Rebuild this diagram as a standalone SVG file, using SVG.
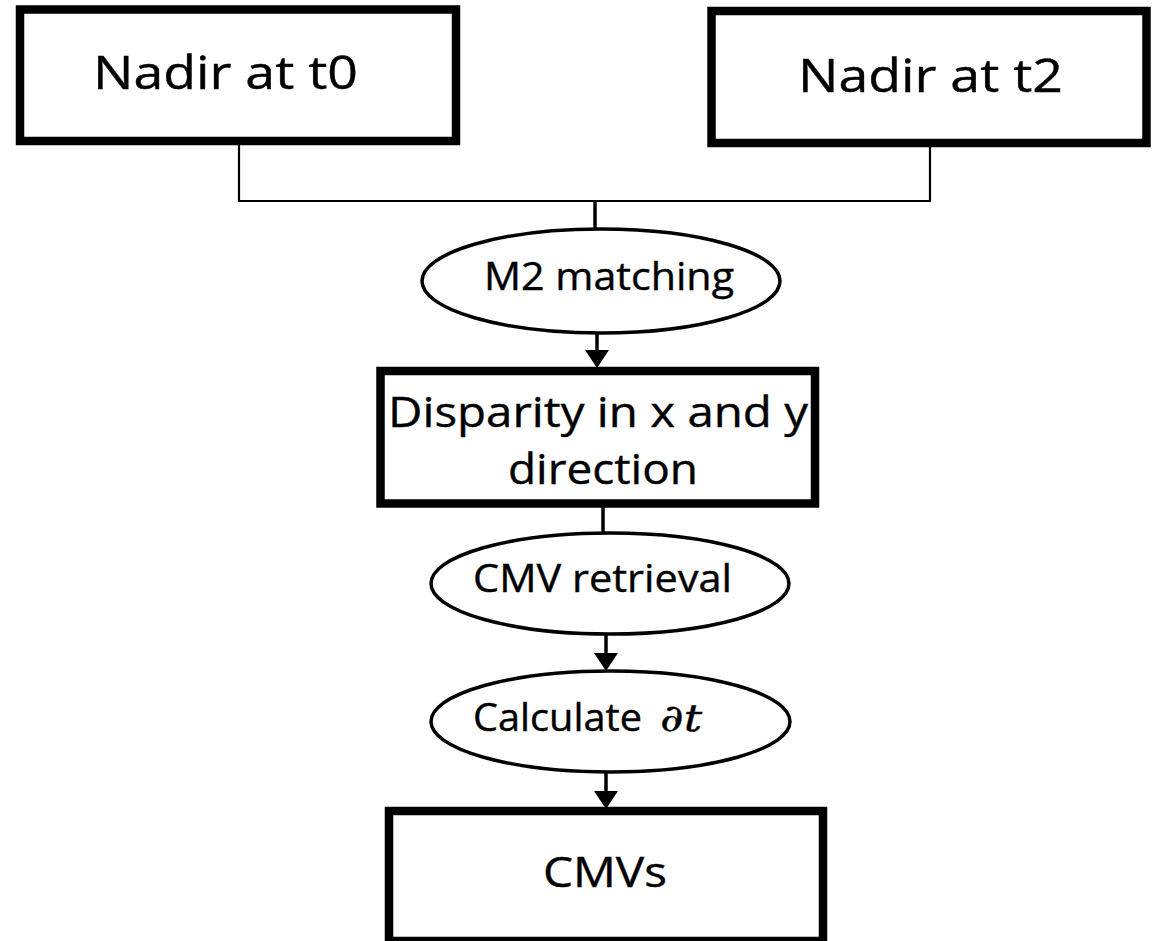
<svg xmlns="http://www.w3.org/2000/svg" width="1153" height="941" viewBox="0 0 1153 941">
<style>
.box{fill:#fff;stroke:#000;stroke-width:8.5}
.ell{fill:#fff;stroke:#000;stroke-width:3.5}
.t{font-family:"Open Sans","Noto Sans","DejaVu Sans",sans-serif;fill:#000;stroke:#000;stroke-width:0.4}
.thin{fill:none;stroke:#000;stroke-width:2.2}
.conn{fill:none;stroke:#000;stroke-width:3.5}
.math{font-family:"DejaVu Serif","Liberation Serif",serif;font-style:italic}
</style>
<defs>
<marker id="ah" viewBox="0 0 18 24" refX="13" refY="12" markerWidth="18" markerHeight="24" markerUnits="userSpaceOnUse" orient="auto">
<path d="M0,0 L18,12 L0,24 Z" fill="#000"/>
</marker>
</defs>
<rect width="1153" height="941" fill="#fff"/>
<g id="connectors">
<polyline class="thin" points="239,145 239,201 930,201 930,147"/>
<line class="conn" x1="595" y1="201" x2="595" y2="230"/>
<line class="conn" x1="597" y1="333" x2="597" y2="363" marker-end="url(#ah)"/>
<line class="conn" x1="603" y1="507" x2="603" y2="534"/>
<line class="conn" x1="606" y1="634" x2="606" y2="666" marker-end="url(#ah)"/>
<line class="conn" x1="606" y1="772" x2="606" y2="804" marker-end="url(#ah)"/>
</g>
<g id="nadir-t0">
<rect class="box" x="20" y="9.5" width="436" height="131.5"/>
<text class="t" x="93" y="89" font-size="46" textLength="265" lengthAdjust="spacingAndGlyphs">Nadir at t0</text>
</g>
<g id="nadir-t2">
<rect class="box" x="711.5" y="11" width="435" height="132"/>
<text class="t" x="798" y="92" font-size="46" textLength="265" lengthAdjust="spacingAndGlyphs">Nadir at t2</text>
</g>
<g id="m2-matching">
<ellipse class="ell" cx="601" cy="281" rx="179" ry="52"/>
<text class="t" x="484" y="290" font-size="38" textLength="250" lengthAdjust="spacingAndGlyphs">M2 matching</text>
</g>
<g id="disparity">
<rect class="box" x="380.5" y="371" width="434.5" height="132.5"/>
<text class="t" x="388" y="427" font-size="42" textLength="420" lengthAdjust="spacingAndGlyphs">Disparity in x and y</text>
<text class="t" x="508" y="484" font-size="42" textLength="190" lengthAdjust="spacingAndGlyphs">direction</text>
</g>
<g id="cmv-retrieval">
<ellipse class="ell" cx="610" cy="583.5" rx="179" ry="50.5"/>
<text class="t" x="473" y="592" font-size="38" textLength="259" lengthAdjust="spacingAndGlyphs">CMV retrieval</text>
</g>
<g id="calculate-dt">
<ellipse class="ell" cx="610.5" cy="721.5" rx="179.5" ry="50.5"/>
<text class="t" x="473" y="731" font-size="38" textLength="169" lengthAdjust="spacingAndGlyphs">Calculate</text>
<text class="t math" x="660" y="731" font-size="38" textLength="42" lengthAdjust="spacingAndGlyphs">∂t</text>
</g>
<g id="cmvs">
<rect class="box" x="389" y="811" width="434" height="130"/>
<text class="t" x="543" y="887" font-size="42" textLength="124" lengthAdjust="spacingAndGlyphs">CMVs</text>
</g>
</svg>
